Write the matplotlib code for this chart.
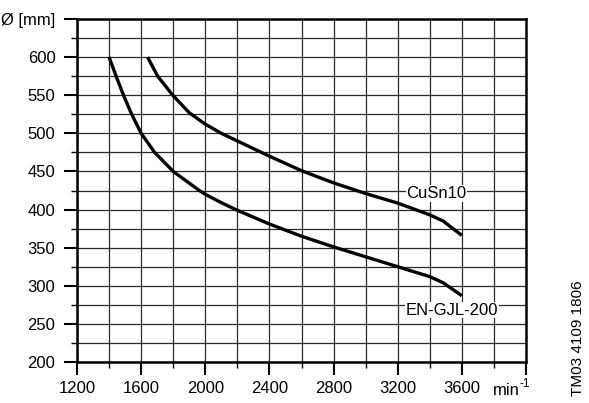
import numpy as np
import matplotlib
matplotlib.use("Agg")
import matplotlib.pyplot as plt
from matplotlib.ticker import MultipleLocator, FixedLocator

plt.rcParams['font.family'] = ['Liberation Sans', 'DejaVu Sans']

# speed [min^-1] vs impeller diameter [mm]
gjl_speed = [1400, 1444, 1490, 1541, 1600, 1684, 1800, 1963, 2000, 2100, 2200, 2400, 2600, 2800, 3000, 3200, 3400, 3483, 3600]
gjl_diam = [600, 575, 550, 525, 500, 475, 450, 425, 420, 409, 399, 381, 365, 351, 338, 325, 312, 304, 287]

cusn_speed = [1640, 1703, 1797, 1900, 2000, 2100, 2200, 2400, 2600, 2800, 3000, 3200, 3400, 3483, 3600]
cusn_diam = [600, 575, 550, 527, 512, 500, 490, 470, 451, 435, 421, 408.5, 393, 385, 366]

x_major = [1200, 1600, 2000, 2400, 2800, 3200, 3600, 4000]
x_labels = ['1200', '1600', '2000', '2400', '2800', '3200', '3600', '']
y_major = [200, 250, 300, 350, 400, 450, 500, 550, 600, 650]
y_labels = ['200', '250', '300', '350', '400', '450', '500', '550', '600', 'Ø [mm]']

fig = plt.figure(figsize=(5.89, 4.03), dpi=100)
ax = fig.add_axes([77/589, 1 - 362/403, (526-77)/589, (362-19)/403])

ax.set_xlim(1200, 4000)
ax.set_ylim(200, 650)

ax.xaxis.set_major_locator(FixedLocator(x_major))
ax.set_xticklabels(x_labels)
ax.xaxis.set_minor_locator(MultipleLocator(200))
ax.yaxis.set_major_locator(FixedLocator(y_major))
ax.set_yticklabels(y_labels)
ax.yaxis.set_minor_locator(MultipleLocator(25))

ax.grid(which='both', color='#2a2a2a', linewidth=0.9)
ax.set_axisbelow(True)

ax.tick_params(which='major', length=9.5, width=1.5, labelsize=12, color='black')
ax.tick_params(which='minor', length=4.5, width=1.0, color='black')
ax.tick_params(axis='x', pad=4.5)
ax.tick_params(axis='y', pad=6)

for s in ax.spines.values():
    s.set_linewidth(1.8)

ax.plot(gjl_speed, gjl_diam, color='black', lw=2.4, solid_capstyle='butt', solid_joinstyle='round')
ax.plot(cusn_speed, cusn_diam, color='black', lw=2.4, solid_capstyle='butt', solid_joinstyle='round')

box = dict(facecolor='white', edgecolor='none', pad=0.5)
ax.text(3443, 421, 'CuSn10', fontsize=12, ha='center', va='center', bbox=box)
ax.text(3536, 268, 'EN-GJL-200', fontsize=12, ha='center', va='center', bbox=box)

# unit at the 4000 tick, with a raised -1
fig.text(493/589, 1 - 395/403, 'min', fontsize=12, ha='left', va='baseline')
fig.text(520/589, 1 - 387/403, '-1', fontsize=8.5, ha='left', va='baseline')

fig.text(578/589, 1 - 338/403, 'TM03 4109 1806', rotation=90, fontsize=11,
         ha='center', va='center')

fig.savefig('out.png', dpi=100)
